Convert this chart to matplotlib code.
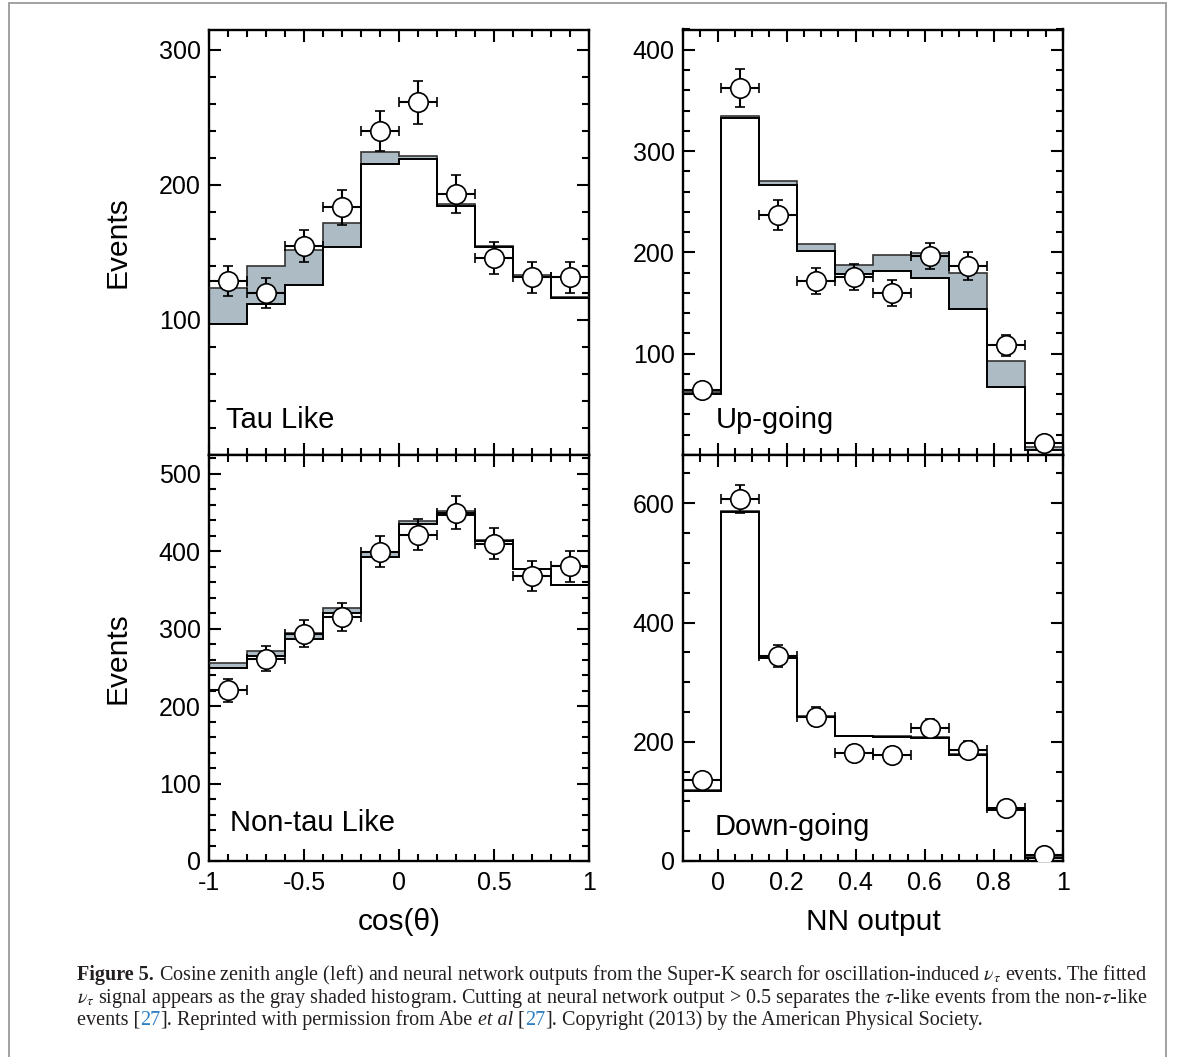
import numpy as np
import matplotlib
matplotlib.use('Agg')
import matplotlib.pyplot as plt
from matplotlib.ticker import MultipleLocator, FuncFormatter
from matplotlib.patches import Rectangle

plt.rcParams['font.family'] = ['Liberation Sans', 'DejaVu Sans']
plt.rcParams['axes.unicode_minus'] = False
plt.rcParams['mathtext.fontset'] = 'stix'

# ---------------- data ----------------
cos_edges = [-1.0, -0.8, -0.6, -0.4, -0.2, 0.0, 0.2, 0.4, 0.6, 0.8, 1.0]
nn_edges = [-0.10, 0.01, 0.12, 0.23, 0.34, 0.45, 0.56, 0.67, 0.78, 0.89, 1.00]

# Tau like (cos zenith)
tau_bg = [97, 112, 126, 154, 215.6, 219, 184.5, 154, 131.5, 116.3]
tau_tot = [123.5, 139.8, 151.4, 171.4, 224, 221, 185.5, 154.5, 133.5, 116.8]
tau_data = [129, 120, 154.6, 183.5, 239.8, 261, 193, 146, 131.6, 131.6]
tau_err = [11, 11, 12, 13, 15, 16, 14, 12, 11.5, 11.5]

# Non-tau like (cos zenith)
nt_bg = [248.7, 264, 287, 320.6, 393, 435.5, 446, 413, 376.5, 356]
nt_tot = [256, 270.6, 294.8, 327, 399, 438.5, 451.4, 414.8, 377.5, 356.5]
nt_data = [220.3, 261, 293.5, 315, 399, 420.8, 449.7, 409.6, 368, 380.4]
nt_err = [15, 16, 17, 18, 20, 20, 21, 20, 19, 20]

# Up-going (NN output)
up_bg = [60, 333, 266.6, 201.5, 178.5, 181.8, 175, 144.3, 67.4, 5]
up_tot = [62, 335, 270.5, 208, 187.4, 197.2, 198.9, 180, 93, 8.3]
up_data = [64, 362.5, 236.7, 171.6, 175.6, 160, 196.3, 186.7, 108.2, 11.6]
up_err = [6, 19, 15, 13, 13, 13, 13, 14, 10, 4]

# Down-going (NN output)
dn_bg = [117.5, 585.4, 339.7, 241.8, 209.3, 208.5, 206.5, 178.5, 85, 5]
dn_tot = [118.5, 586.5, 341, 243, 210, 209.3, 207.5, 180, 86.5, 8]
dn_data = [135.4, 607.3, 343.6, 241.8, 181.9, 178, 223.9, 187, 89, 9.5]
dn_err = [12, 24, 19, 16, 13, 13, 15, 14, 9, 3]

panel_names = ['Tau Like', 'Up-going', 'Non-tau Like', 'Down-going']
x_titles = ['cos(θ)', 'NN output']
y_title = 'Events'

SHADE = '#adbbc5'

# ---------------- figure ----------------
W, H = 1182, 1057
fig = plt.figure(figsize=(W / 100, H / 100), dpi=100)


def px_axes(x0, y0, x1, y1):
    return fig.add_axes([x0 / W, 1 - y1 / H, (x1 - x0) / W, (y1 - y0) / H])


ax_tl = px_axes(209, 29.5, 589, 455)
ax_tr = px_axes(683, 29.5, 1063, 455)
ax_bl = px_axes(209, 455, 589, 861)
ax_br = px_axes(683, 455, 1063, 861)


def style(ax, xlim, ylim, xmaj, xmin, ymaj, ymin, show_x, hide_zero):
    ax.set_xlim(xlim)
    ax.set_ylim(ylim)
    ax.xaxis.set_major_locator(MultipleLocator(xmaj))
    ax.xaxis.set_minor_locator(MultipleLocator(xmin))
    ax.yaxis.set_major_locator(MultipleLocator(ymaj))
    ax.yaxis.set_minor_locator(MultipleLocator(ymin))
    ax.xaxis.set_major_formatter(FuncFormatter(lambda v, p: '%g' % round(v, 3)))

    def yfmt(v, p):
        if hide_zero and abs(v) < 1e-9:
            return ''
        return '%g' % round(v, 3)
    ax.yaxis.set_major_formatter(FuncFormatter(yfmt))
    ax.tick_params(which='both', direction='in', top=True, right=True,
                   width=1.5, labelsize=18, pad=6, colors='black')
    ax.tick_params(which='major', length=8.6)
    ax.tick_params(which='minor', length=5)
    ax.tick_params(axis='x', pad=7)
    if not show_x:
        ax.tick_params(axis='x', labelbottom=False)
    for s in ax.spines.values():
        s.set_linewidth(1.7)


def draw_panel(ax, edges, bg, tot, data, err):
    edges = np.asarray(edges)
    centers = 0.5 * (edges[:-1] + edges[1:])
    halfw = 0.5 * (edges[1:] - edges[:-1])
    ax.stairs(tot, edges, baseline=bg, fill=True, color=SHADE, lw=0, zorder=2)
    ax.stairs(tot, edges, baseline=None, color='#333333', lw=1.2, zorder=3)
    ax.stairs(bg, edges, baseline=None, color='black', lw=1.4, zorder=3)
    ax.errorbar(centers, data, xerr=halfw, yerr=err, fmt='o', ms=14,
                mfc='white', mec='black', mew=1.2, ecolor='black',
                elinewidth=1.5, capsize=3.3, capthick=1.5, zorder=4)


draw_panel(ax_tl, cos_edges, tau_bg, tau_tot, tau_data, tau_err)
draw_panel(ax_bl, cos_edges, nt_bg, nt_tot, nt_data, nt_err)
draw_panel(ax_tr, nn_edges, up_bg, up_tot, up_data, up_err)
draw_panel(ax_br, nn_edges, dn_bg, dn_tot, dn_data, dn_err)

style(ax_tl, (-1, 1), (0, 315), 0.5, 0.1, 100, 20, False, True)
style(ax_bl, (-1, 1), (0, 524), 0.5, 0.1, 100, 20, True, False)
style(ax_tr, (-0.1, 1.0), (0, 420), 0.2, 0.05, 100, 20, False, True)
style(ax_br, (-0.1, 1.0), (0, 681), 0.2, 0.05, 200, 50, True, False)

# panel labels
for ax, name, (px, py) in zip([ax_tl, ax_tr, ax_bl, ax_br], panel_names,
                              [(0.045, 0.064), (0.087, 0.064),
                               (0.055, 0.075), (0.082, 0.064)]):
    ax.text(px, py, name, transform=ax.transAxes, fontsize=21,
            ha='left', va='baseline', zorder=6)

# axis labels
for ax in (ax_tl, ax_bl):
    ax.set_ylabel(y_title, fontsize=21.5)
    ax.yaxis.set_label_coords(-0.241, 0.5)
    ax.yaxis.label.set_va('center')
for ax, lab in zip((ax_bl, ax_br), x_titles):
    ax.set_xlabel(lab, fontsize=21.5)
    ax.xaxis.set_label_coords(0.5, -0.150)
    ax.xaxis.label.set_va('center')

# outer frame
fig.add_artist(Rectangle((9 / W, -0.05), (1166 - 9) / W, 1 - 3 / H + 0.05,
                         transform=fig.transFigure, fill=False,
                         ec='#9a9a9a', lw=1.3))

# caption
CAP_FS = 14.5
CAP_FAM = ['Liberation Serif', 'DejaVu Serif']
BLUE = '#2f7fc1'
INK = '#231f20'
renderer = fig.canvas.get_renderer()


def caption_line(pieces, x_px, base_px):
    x = x_px
    for text, kw in pieces:
        opts = dict(fontsize=CAP_FS, family=CAP_FAM, color=INK)
        opts.update(kw)
        t = fig.text(x / W, 1 - base_px / H, text, ha='left', va='baseline', **opts)
        bb = t.get_window_extent(renderer)
        x = bb.x1


caption_line([
    ('Figure 5.', dict(weight='bold')),
    (r' Cosine zenith angle (left) and neural network outputs from the Super-K search '
     r'for oscillation-induced $\nu_\tau$ events. The fitted', {}),
], 77, 980)
caption_line([
    (r'$\nu_\tau$ signal appears as the gray shaded histogram. Cutting at neural network '
     r'output > 0.5 separates the $\tau$-like events from the non-$\tau$-like', {}),
], 77, 1002.5)
caption_line([
    ('events [', {}),
    ('27', dict(color=BLUE)),
    ('].', {}),
    (' Reprinted with permission from Abe', {}),
    (' et al', dict(style='italic')),
    (' [', {}),
    ('27', dict(color=BLUE)),
    ('].', {}),
    (' Copyright (2013) by the American Physical Society.', {}),
], 77, 1025)

fig.savefig('out.png', dpi=100)
